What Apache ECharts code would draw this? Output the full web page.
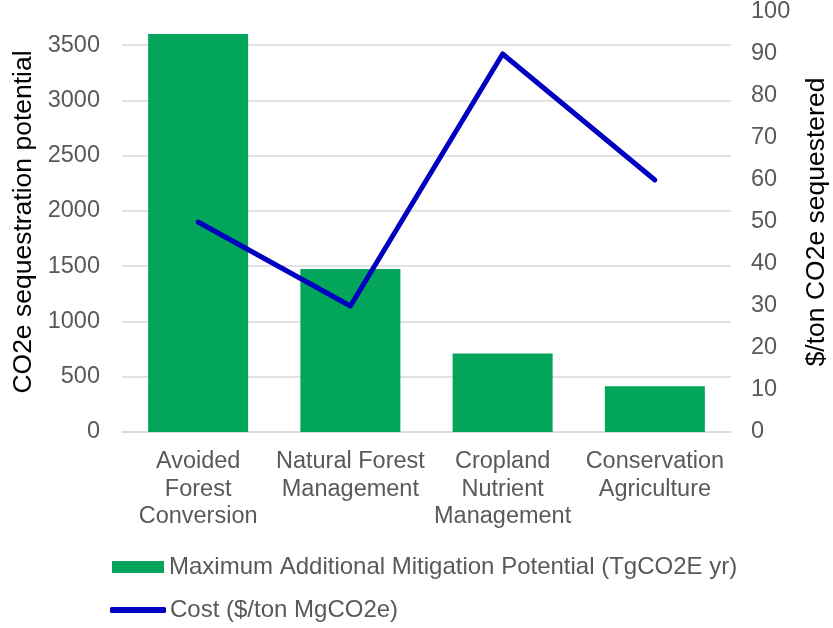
<!DOCTYPE html>
<html>
<head>
<meta charset="utf-8">
<script src="https://cdn.jsdelivr.net/npm/echarts@6/dist/echarts.min.js"></script>
<style>
  html, body { margin: 0; padding: 0; background: #ffffff; }
  #chart { width: 833px; height: 628px; }
</style>
</head>
<body>
<div id="chart"></div>
<script>
// Mitigation options on the category axis
const categories = [
  'Avoided\nForest\nConversion',
  'Natural Forest\nManagement',
  'Cropland\nNutrient\nManagement',
  'Conservation\nAgriculture'
];
// Maximum additional mitigation potential (TgCO2E yr), left axis
const potential = [3600, 1475, 710, 415];
// Cost ($/ton MgCO2e), right axis
const cost = [50, 30, 90, 60];

const barName = 'Maximum Additional Mitigation Potential (TgCO2E yr)';
const lineName = 'Cost ($/ton MgCO2e)';

const FONT = '"Liberation Sans", Arial, sans-serif';
const GRID_COLOR = '#d9d9d9';
const LABEL_COLOR = '#595959';
const BAR_COLOR = '#02a55a';
const LINE_COLOR = '#0000c0';
const TICK_SIZE = 23.5;
const LEGEND_SIZE = 24;

const chart = echarts.init(document.getElementById('chart'), null, { renderer: 'canvas' });

// Left axis runs to 3800 with ticks every 500; the top boundary line stays hidden
const splitColors = [];
for (let v = 0; v <= 3500; v += 500) splitColors.push(GRID_COLOR);
splitColors.push('rgba(0,0,0,0)');

chart.setOption({
  backgroundColor: '#ffffff',
  textStyle: { fontFamily: FONT },
  animation: false,
  grid: { left: 122, right: 102, top: 12, bottom: 196, outerBoundsMode: 'none', containLabel: false },
  legend: [
    {
      data: [{ name: barName, icon: 'rect' }],
      left: 107, top: 550,
      itemWidth: 52, itemHeight: 12,
      textStyle: { fontFamily: FONT, fontSize: LEGEND_SIZE, color: LABEL_COLOR, padding: [0, 0, 0, 0] }
    },
    {
      data: [{ name: lineName, icon: 'roundRect', itemStyle: { color: LINE_COLOR } }],
      left: 105, top: 593,
      itemWidth: 56, itemHeight: 6,
      textStyle: { fontFamily: FONT, fontSize: LEGEND_SIZE, color: LABEL_COLOR, padding: [0, 0, 0, -1] }
    }
  ],
  xAxis: {
    type: 'category',
    data: categories,
    axisTick: { show: false },
    axisLine: { lineStyle: { color: GRID_COLOR, width: 1.5 } },
    axisLabel: {
      interval: 0,
      margin: 16,
      fontFamily: FONT,
      fontSize: TICK_SIZE,
      lineHeight: 27.5,
      color: LABEL_COLOR,
      align: 'center'
    }
  },
  yAxis: [
    {
      type: 'value',
      min: 0, max: 3800, interval: 500,
      axisLine: { show: false },
      axisTick: { show: false },
      axisLabel: {
        margin: 22, fontFamily: FONT, fontSize: TICK_SIZE, color: LABEL_COLOR,
        showMaxLabel: false,
        formatter: (v) => String(v)
      },
      splitLine: { show: true, lineStyle: { color: splitColors, width: 1.5 } },
      name: 'CO2e sequestration potential',
      nameLocation: 'middle',
      nameRotate: 90,
      nameGap: 80,
      nameTextStyle: { fontFamily: FONT, fontSize: 26.5, color: '#000000' }
    },
    {
      type: 'value',
      min: 0, max: 100, interval: 10,
      position: 'right',
      axisLine: { show: false },
      axisTick: { show: false },
      splitLine: { show: false },
      axisLabel: { margin: 20, fontFamily: FONT, fontSize: TICK_SIZE, color: LABEL_COLOR },
      name: '$/ton CO2e sequestered',
      nameLocation: 'middle',
      nameRotate: 90,
      nameGap: 72,
      nameTextStyle: { fontFamily: FONT, fontSize: 26.5, color: '#000000' }
    }
  ],
  series: [
    {
      name: barName,
      type: 'bar',
      yAxisIndex: 0,
      data: potential,
      barWidth: 100,
      itemStyle: { color: BAR_COLOR }
    },
    {
      name: lineName,
      type: 'line',
      yAxisIndex: 1,
      data: cost,
      symbol: 'none',
      lineStyle: { color: LINE_COLOR, width: 5, cap: 'round', join: 'round' },
      itemStyle: { color: LINE_COLOR }
    }
  ]
});
</script>
</body>
</html>
